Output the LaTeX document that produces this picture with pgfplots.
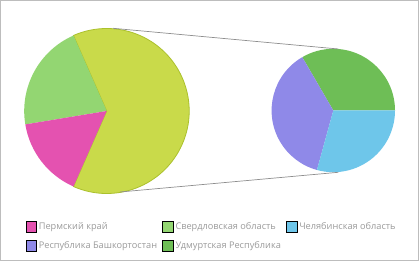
\documentclass[border=0pt]{standalone}
\usepackage{pgfplots}
\usepackage{pgfplotstable}
\usepackage{fontspec}
\setmainfont{Open Sans}
\pgfplotsset{compat=1.18}
\definecolor{cPerm}{HTML}{E452B0}
\definecolor{cSverd}{HTML}{93D672}
\definecolor{cChel}{HTML}{6EC6EA}
\definecolor{cBash}{HTML}{8F89E8}
\definecolor{cUdm}{HTML}{6EBE56}
\definecolor{cOther}{HTML}{C9DA4A}
\definecolor{cOtherE}{HTML}{ABC12C}
\definecolor{cBorder}{HTML}{BDBDBD}
\definecolor{cLine}{HTML}{8E8E8E}
\definecolor{cText}{HTML}{9A9A9A}
\pgfplotstableread{
name value
Perm 15.8
Sverd 21.0
Udm 21.1
Bash 23.6
Chel 18.5
}\datatable
\pgfplotstablegetelem{0}{value}\of\datatable \let\vP\pgfplotsretval
\pgfplotstablegetelem{1}{value}\of\datatable \let\vS\pgfplotsretval
\pgfplotstablegetelem{2}{value}\of\datatable \let\vU\pgfplotsretval
\pgfplotstablegetelem{3}{value}\of\datatable \let\vB\pgfplotsretval
\pgfplotstablegetelem{4}{value}\of\datatable \let\vC\pgfplotsretval
\pgfmathsetmacro\other{\vU+\vB+\vC}
\pgfmathsetmacro\aO{\other*3.6/2}
\pgfmathsetmacro\aS{\aO+\vS*3.6}
\pgfmathsetmacro\aP{\aS+\vP*3.6}
\pgfmathsetmacro\bU{\vU/\other*360}
\pgfmathsetmacro\bB{\bU+\vB/\other*360}
\begin{document}
\begin{tikzpicture}
\begin{axis}[
  scale only axis, width=418pt, height=260pt,
  xmin=0, xmax=418, ymin=0, ymax=260,
  ticks=none, clip=false,
  axis line style={draw=cBorder, line width=1pt},
  sq/.style={legend image code/.code={\fill[##1] (0pt,-2.5pt) rectangle (10.5pt,8pt);}},
  legend columns=3,
  legend style={at={(axis cs:24.8,39.5)}, anchor=north west, draw=none, fill=none,
    inner sep=0pt, font=\fontsize{9.2}{10}\selectfont, text=cText,
    nodes={inner sep=0.6pt, anchor=base west},
    row sep=8pt,
    /tikz/every odd column/.append style={column sep=1.8pt},
    /tikz/every even column/.append style={column sep=4.5pt}},
  legend cell align=left,
]
% left pie
\fill[cOther, draw=cOtherE, line width=0.8pt] (axis cs:106.2,149.5) -- +(-\aO:82.5pt) arc[start angle=-\aO, end angle=\aO, radius=82.5pt] -- cycle;
\fill[cSverd] (axis cs:106.2,149.5) -- +(\aO:82.5pt) arc[start angle=\aO, end angle=\aS, radius=82.5pt] -- cycle;
\fill[cPerm] (axis cs:106.2,149.5) -- +(\aS:82.5pt) arc[start angle=\aS, end angle=\aP, radius=82.5pt] -- cycle;
% right pie
\fill[cUdm] (axis cs:332.8,150) -- +(0:61.7pt) arc[start angle=0, end angle=\bU, radius=61.7pt] -- cycle;
\fill[cBash] (axis cs:332.8,150) -- +(\bU:61.7pt) arc[start angle=\bU, end angle=\bB, radius=61.7pt] -- cycle;
\fill[cChel] (axis cs:332.8,150) -- +(\bB:61.7pt) arc[start angle=\bB, end angle=360, radius=61.7pt] -- cycle;
% connectors
\addplot[cLine, line width=0.7pt, forget plot] coordinates {(112.5,232.2) (337.8,211.5)};
\addplot[cLine, line width=0.7pt, forget plot] coordinates {(119.5,68.5) (337.8,88.2)};
\addlegendimage{sq, fill=cPerm}
\addlegendentry{Пермский край}
\addlegendimage{sq, fill=cSverd}
\addlegendentry{Свердловская область}
\addlegendimage{sq, fill=cChel}
\addlegendentry{Челябинская область}
\addlegendimage{sq, fill=cBash}
\addlegendentry{Республика Башкортостан}
\addlegendimage{sq, fill=cUdm}
\addlegendentry{Удмуртская Республика}
\end{axis}
\end{tikzpicture}
\end{document}
